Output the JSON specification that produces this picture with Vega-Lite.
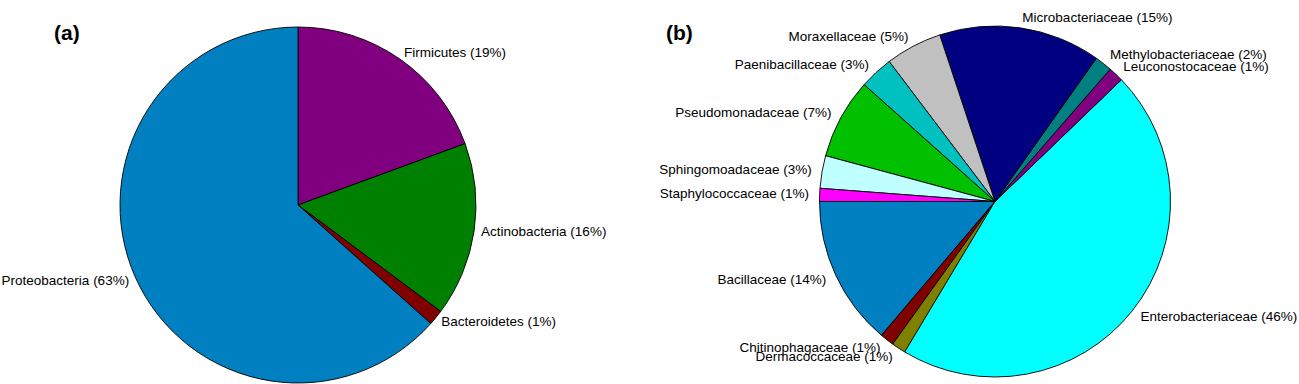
{
  "$schema": "https://vega.github.io/schema/vega-lite/v6.json",
  "background": "white",
  "padding": {"left": 0, "top": 10, "right": 0, "bottom": 0},
  "autosize": {"type": "pad"},
  "bounds": "flush",
  "spacing": 95,
  "resolve": {"scale": {"color": "independent", "theta": "independent"}},
  "config": {"view": {"stroke": null}, "font": "Liberation Sans"},
  "hconcat": [
    {
      "width": 596,
      "height": 360,
      "title": {"text": "(a)", "anchor": "start", "frame": "group", "offset": -19, "dx": 54, "fontSize": 21, "fontWeight": "bold", "font": "Liberation Sans", "color": "black"},
      "data": {"values": [
        {"phylum": "Firmicutes", "share": 19.4, "rank": 1, "label": "Firmicutes (19%)"},
        {"phylum": "Actinobacteria", "share": 15.8, "rank": 2, "label": "Actinobacteria (16%)"},
        {"phylum": "Bacteroidetes", "share": 1.4, "rank": 3, "label": "Bacteroidetes (1%)"},
        {"phylum": "Proteobacteria", "share": 63.4, "rank": 4, "label": "Proteobacteria (63%)"}
      ]},
      "encoding": {
        "theta": {"field": "share", "type": "quantitative", "stack": true},
        "order": {"field": "rank", "type": "quantitative"},
        "color": {"field": "phylum", "type": "nominal", "legend": null,
          "scale": {"domain": ["Firmicutes", "Actinobacteria", "Bacteroidetes", "Proteobacteria"],
                    "range": ["#800080", "#008000", "#800000", "#0080C0"]}}
      },
      "layer": [
        {"mark": {"type": "arc", "radius": 178, "stroke": "black", "strokeWidth": 0.9}},
        {"mark": {"type": "text", "radius": 185, "fontSize": 13.5, "font": "Liberation Sans", "baseline": "middle",
                  "align": {"expr": "datum.phylum === 'Proteobacteria' ? 'right' : 'left'"}},
         "encoding": {"text": {"field": "label", "type": "nominal"}, "color": {"value": "black"}}}
      ]
    },
    {
      "width": 608,
      "height": 353,
      "title": {"text": "(b)", "anchor": "start", "frame": "group", "offset": -33, "dx": -25, "fontSize": 21, "fontWeight": "bold", "font": "Liberation Sans", "color": "black"},
      "data": {"values": [
        {"family": "Bacillaceae", "share": 13.8, "label": "Bacillaceae (14%)"},
        {"family": "Chitinophagaceae", "share": 1.3, "label": "Chitinophagaceae (1%)"},
        {"family": "Dermacoccaceae", "share": 1.3, "label": "Dermacoccaceae (1%)"},
        {"family": "Enterobacteriaceae", "share": 45.8, "label": "Enterobacteriaceae (46%)"},
        {"family": "Leuconostocaceae", "share": 1.4, "label": "Leuconostocaceae (1%)"},
        {"family": "Methylobacteriaceae", "share": 1.6, "label": "Methylobacteriaceae (2%)"},
        {"family": "Microbacteriaceae", "share": 14.9, "label": "Microbacteriaceae (15%)"},
        {"family": "Moraxellaceae", "share": 5.2, "label": "Moraxellaceae (5%)"},
        {"family": "Paenibacillaceae", "share": 3.1, "label": "Paenibacillaceae (3%)"},
        {"family": "Pseudomonadaceae", "share": 7.4, "label": "Pseudomonadaceae (7%)"},
        {"family": "Sphingomoadaceae", "share": 3.0, "label": "Sphingomoadaceae (3%)"},
        {"family": "Staphylococcaceae", "share": 1.2, "label": "Staphylococcaceae (1%)"}
      ]},
      "encoding": {
        "theta": {"field": "share", "type": "quantitative", "stack": true, "scale": {"range": [4.71238898, -1.57079633]}},
        "order": {"field": "family", "type": "nominal"},
        "color": {"field": "family", "type": "nominal", "legend": null,
          "scale": {"domain": ["Bacillaceae", "Chitinophagaceae", "Dermacoccaceae", "Enterobacteriaceae", "Leuconostocaceae", "Methylobacteriaceae", "Microbacteriaceae", "Moraxellaceae", "Paenibacillaceae", "Pseudomonadaceae", "Sphingomoadaceae", "Staphylococcaceae"],
                    "range": ["#0080C0", "#800000", "#808000", "#00FFFF", "#800080", "#008080", "#000080", "#C0C0C0", "#00C0C0", "#00C000", "#C0FFFF", "#FF00FF"]}}
      },
      "layer": [
        {"mark": {"type": "arc", "radius": 175.5, "stroke": "black", "strokeWidth": 0.9}},
        {"mark": {"type": "text", "radius": 186, "fontSize": 13.5, "font": "Liberation Sans", "baseline": "middle",
                  "align": {"expr": "indexof(['Enterobacteriaceae','Leuconostocaceae','Methylobacteriaceae','Microbacteriaceae'], datum.family) >= 0 ? 'left' : 'right'"}},
         "encoding": {"text": {"field": "label", "type": "nominal"}, "color": {"value": "black"}}}
      ]
    }
  ]
}
